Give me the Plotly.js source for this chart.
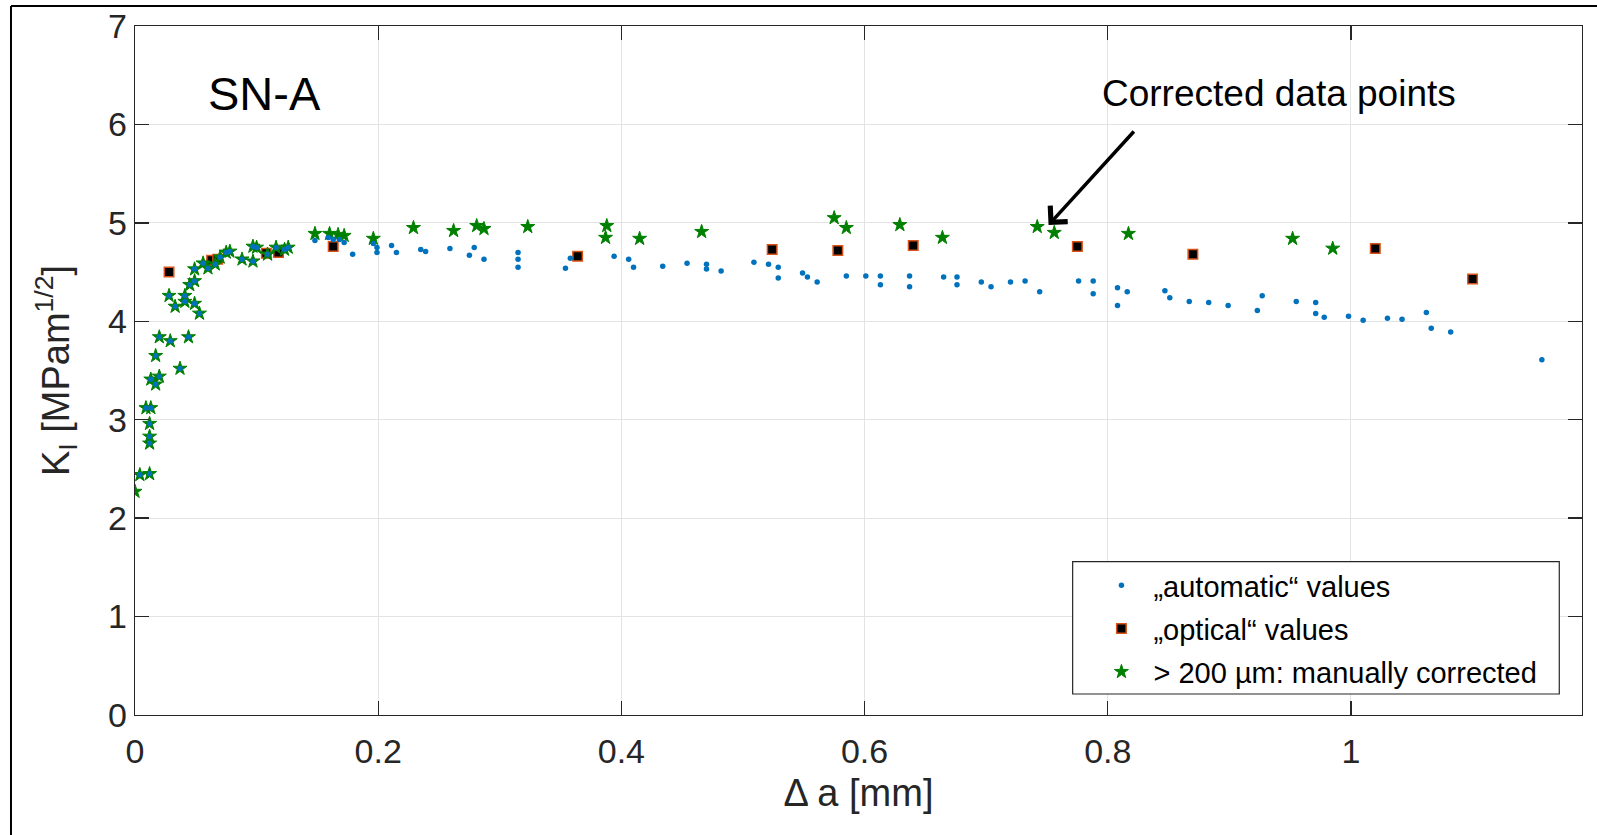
<!DOCTYPE html>
<html>
<head>
<meta charset="utf-8">
<script src="https://cdn.plot.ly/plotly-3.0.1.min.js"></script>
<style>
  html, body { margin: 0; padding: 0; background: #fff; }
  #chart { width: 1597px; height: 835px; }
</style>
</head>
<body>
<div id="chart"></div>
<script>
// Crack extension Δa [mm] and stress intensity K_I [MPa·m^1/2], specimen SN-A

// "automatic" values
const autoDa = [
  0.004, 0.012, 0.012, 0.012, 0.012, 0.009, 0.013, 0.017, 0.013, 0.020,
  0.017, 0.020, 0.029, 0.037, 0.044, 0.028, 0.033, 0.041, 0.041, 0.049,
  0.053, 0.045, 0.049, 0.049, 0.056, 0.060, 0.066, 0.070, 0.075, 0.078,
  0.088, 0.097, 0.097, 0.100, 0.109, 0.116, 0.123, 0.126,
  0.148, 0.159, 0.163, 0.168, 0.172,
  0.179, 0.196, 0.199, 0.199, 0.211, 0.215, 0.235, 0.239, 0.259, 0.275,
  0.279, 0.287, 0.315, 0.315, 0.315, 0.354, 0.358, 0.394, 0.406, 0.410,
  0.434, 0.454, 0.470, 0.470, 0.482, 0.509, 0.521, 0.529, 0.529, 0.549,
  0.553, 0.561, 0.585, 0.601, 0.613, 0.613, 0.637, 0.637, 0.665, 0.676,
  0.676, 0.696, 0.704, 0.720, 0.732, 0.744, 0.776, 0.788, 0.788, 0.808,
  0.808, 0.816, 0.847, 0.851, 0.867, 0.883, 0.899, 0.923, 0.927, 0.955,
  0.971, 0.971, 0.978, 0.998, 1.010, 1.030, 1.042, 1.062, 1.066, 1.082,
  1.157
];
const autoK = [
  2.44, 2.45, 2.76, 2.83, 2.96, 3.12, 3.12, 3.36, 3.41, 3.44,
  3.65, 3.84, 3.80, 3.52, 3.84, 4.26, 4.15, 4.26, 4.20, 4.18,
  4.08, 4.37, 4.41, 4.53, 4.59, 4.54, 4.58, 4.65, 4.70, 4.71,
  4.63, 4.61, 4.76, 4.75, 4.68, 4.75, 4.73, 4.75,
  4.82, 4.85, 4.83, 4.83, 4.80,
  4.68, 4.79, 4.75, 4.70, 4.77, 4.70, 4.73, 4.71, 4.74, 4.67,
  4.75, 4.63, 4.70, 4.63, 4.55, 4.54, 4.64, 4.66, 4.63, 4.55,
  4.56, 4.59, 4.58, 4.53, 4.51, 4.60, 4.58, 4.55, 4.44, 4.49,
  4.45, 4.40, 4.46, 4.46, 4.46, 4.37, 4.46, 4.35, 4.45, 4.45,
  4.37, 4.40, 4.35, 4.40, 4.41, 4.30, 4.41, 4.41, 4.28, 4.34,
  4.16, 4.30, 4.31, 4.24, 4.20, 4.19, 4.16, 4.11, 4.26, 4.20,
  4.19, 4.08, 4.04, 4.05, 4.01, 4.03, 4.02, 4.09, 3.93, 3.89,
  3.61
];

// "optical" values
const opticalDa = [0.028, 0.063, 0.068, 0.108, 0.118, 0.163, 0.364, 0.524, 0.578, 0.640, 0.775, 0.870, 1.020, 1.100];
const opticalK  = [4.50, 4.62, 4.63, 4.69, 4.70, 4.76, 4.66, 4.73, 4.72, 4.77, 4.76, 4.68, 4.74, 4.43];

// manually corrected values
const manualDa = [
  0.000, 0.004, 0.012, 0.012, 0.012, 0.012, 0.009, 0.013, 0.017, 0.013,
  0.020, 0.017, 0.020, 0.029, 0.037, 0.044, 0.028, 0.033, 0.041, 0.041,
  0.049, 0.053, 0.045, 0.049, 0.049, 0.056, 0.060, 0.066, 0.070, 0.075,
  0.078, 0.088, 0.097, 0.097, 0.100, 0.109, 0.116, 0.123, 0.126,
  0.148, 0.160, 0.167, 0.172, 0.196,
  0.229, 0.262, 0.281, 0.287, 0.323, 0.388, 0.387, 0.415, 0.466, 0.575,
  0.585, 0.629, 0.664, 0.742, 0.756, 0.817, 0.952, 0.985
];
const manualK = [
  2.27, 2.44, 2.45, 2.76, 2.83, 2.96, 3.12, 3.12, 3.36, 3.41,
  3.44, 3.65, 3.84, 3.80, 3.52, 3.84, 4.26, 4.15, 4.26, 4.20,
  4.18, 4.08, 4.37, 4.41, 4.53, 4.59, 4.54, 4.58, 4.65, 4.70,
  4.71, 4.63, 4.61, 4.76, 4.75, 4.68, 4.75, 4.73, 4.75,
  4.89, 4.89, 4.88, 4.87, 4.84,
  4.95, 4.92, 4.97, 4.94, 4.96, 4.97, 4.85, 4.84, 4.91, 5.05,
  4.95, 4.98, 4.85, 4.96, 4.90, 4.89, 4.84, 4.74
];

const FONT = 'Liberation Sans, Arial, Helvetica, sans-serif';
const INK = '#262626';

const traces = [
  {
    name: '\u201Eoptical\u201C values',
    x: opticalDa, y: opticalK,
    type: 'scatter', mode: 'markers',
    legendrank: 2, legendgroup: 'optical',
    marker: { symbol: 'square', size: 9.5, color: '#000000', line: { color: '#D95319', width: 1.5 } }
  },
  {
    name: '> 200 \u00B5m: manually corrected',
    x: manualDa, y: manualK,
    type: 'scatter', mode: 'markers',
    legendrank: 3, legendgroup: 'manual',
    marker: { symbol: 'star', size: 10.5, color: '#008000', line: { color: '#008000', width: 1 } }
  },
  {
    name: '\u201Eautomatic\u201C values',
    x: autoDa, y: autoK,
    type: 'scatter', mode: 'markers',
    legendrank: 1, legendgroup: 'auto',
    marker: { symbol: 'circle', size: 5.5, color: '#0072BD' }
  }
];

const axisCommon = {
  showline: true, linecolor: INK, linewidth: 1.3, mirror: 'ticks',
  ticks: 'inside', ticklen: 14, tickcolor: INK, tickwidth: 1.3,
  showgrid: true, gridcolor: '#e3e3e3', gridwidth: 1,
  zeroline: false,
  tickfont: { family: FONT, size: 34, color: INK }
};

const layout = {
  width: 1597, height: 835,
  margin: { l: 135, r: 15, t: 26, b: 120 },
  paper_bgcolor: '#ffffff', plot_bgcolor: '#ffffff',
  font: { family: FONT, color: '#000000' },
  showlegend: true,
  xaxis: Object.assign({}, axisCommon, {
    range: [0, 1.19], dtick: 0.2, tick0: 0, ticklabelstandoff: 6,
    title: { text: '\u0394 a [mm]', font: { family: FONT, size: 38, color: INK }, standoff: 10 }
  }),
  yaxis: Object.assign({}, axisCommon, {
    range: [0, 7], dtick: 1, tick0: 0,
    title: { text: 'K<sub>I</sub> [MPam<sup>1/2</sup>]', font: { family: FONT, size: 38, color: INK }, standoff: 26 }
  }),
  legend: {
    x: 0.6596, y: 0.2250, xanchor: 'left', yanchor: 'top',
    bgcolor: 'rgba(0,0,0,0)', borderwidth: 0,
    font: { family: FONT, size: 29, color: '#000000' },
    itemwidth: 54, tracegroupgap: 2.5
  },
  annotations: [
    {
      text: 'SN-A', xref: 'x', yref: 'y', x: 0.1066, y: 6.31,
      showarrow: false, xanchor: 'center', yanchor: 'middle',
      font: { family: FONT, size: 47, color: '#000000' }
    },
    {
      text: 'Corrected data points', xref: 'x', yref: 'y', x: 0.9406, y: 6.31,
      showarrow: false, xanchor: 'center', yanchor: 'middle',
      font: { family: FONT, size: 37, color: '#000000' }
    },
    {
      text: '', xref: 'x', yref: 'y', x: 0.7513, y: 4.978,
      axref: 'x', ayref: 'y', ax: 0.8226, ay: 5.943,
      showarrow: true, arrowhead: 4, arrowsize: 1.3, arrowwidth: 3.5, arrowcolor: '#000000'
    }
  ],
  shapes: [
    // legend box
    { type: 'rect', xref: 'paper', yref: 'paper', x0: 0.648, x1: 0.9843, y0: 0.0305, y1: 0.2225,
      fillcolor: '#ffffff', line: { color: INK, width: 1.2 }, layer: 'above' },
    // figure frame
    { type: 'line', xref: 'paper', yref: 'paper', x0: -0.0857, x1: 1.05, y0: 1.029, y1: 1.029,
      line: { color: '#000000', width: 2 } },
    { type: 'line', xref: 'paper', yref: 'paper', x0: -0.0857, x1: -0.0857, y0: 1.029, y1: -0.2,
      line: { color: '#000000', width: 2 } }
  ]
};

Plotly.newPlot('chart', traces, layout, { displayModeBar: false, staticPlot: true });
</script>
</body>
</html>
